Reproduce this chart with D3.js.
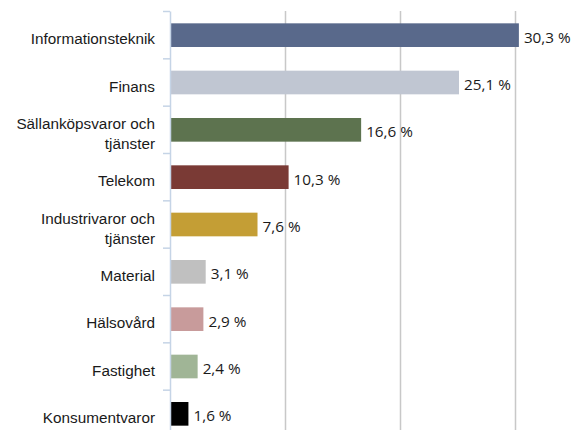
<!DOCTYPE html>
<html>
<head>
<meta charset="utf-8">
<script src="https://cdn.jsdelivr.net/npm/d3@7"></script>
<style>
  html, body { margin: 0; padding: 0; background: #fff; }
</style>
</head>
<body>
<svg id="chart"></svg>
<script>
// data
const categories = [
  ["Informationsteknik"],
  ["Finans"],
  ["Sällanköpsvaror och", "tjänster"],
  ["Telekom"],
  ["Industrivaror och", "tjänster"],
  ["Material"],
  ["Hälsovård"],
  ["Fastighet"],
  ["Konsumentvaror"]
];
const values = [30.3, 25.1, 16.6, 10.3, 7.6, 3.1, 2.9, 2.4, 1.6];
const colors = ["#59698b", "#c0c6d2", "#5d734f", "#7a3a35", "#c49e35", "#c0c0c0", "#c89b9b", "#a0b596", "#000000"];
const gridTicks = [10, 20, 30];

const width = 573;
const height = 430;

const svg = d3.select("#chart")
    .attr("width", width)
    .attr("height", height);

const data = categories.map((c, i) => ({ key: c.join(" "), lines: c, value: values[i], color: colors[i] }));

// scales
const x = d3.scaleLinear()
    .domain([0, 35])
    .range([170, 573]);

const y = d3.scaleBand()
    .domain(data.map(d => d.key))
    .range([11.5, 437.5])
    .paddingInner(0.5)
    .paddingOuter(0.25);

// gridlines
svg.append("g")
    .selectAll("line")
    .data(gridTicks)
    .enter()
    .append("line")
    .attr("x1", d => Math.round(x(d)) + 0.5)
    .attr("x2", d => Math.round(x(d)) + 0.5)
    .attr("y1", 11)
    .attr("y2", height)
    .attr("stroke", "#c8c8c8")
    .attr("stroke-width", 1.5);

// bars
svg.append("g")
    .selectAll("rect")
    .data(data)
    .enter()
    .append("rect")
    .attr("x", x(0))
    .attr("y", d => y(d.key))
    .attr("width", d => x(d.value) - x(0))
    .attr("height", y.bandwidth())
    .attr("fill", d => d.color);

// y axis line and ticks at band boundaries
const axisColor = "#c5d4e6";
const gap = y.step() * y.paddingInner() / 2;
const bounds = data.map(d => y(d.key) - gap);
bounds.push(y(data[data.length - 1].key) + y.bandwidth() + gap);

svg.append("line")
    .attr("x1", x(0) + 0.5)
    .attr("x2", x(0) + 0.5)
    .attr("y1", bounds[0])
    .attr("y2", height)
    .attr("stroke", axisColor)
    .attr("stroke-width", 1.5);

svg.append("g")
    .selectAll("line")
    .data(bounds)
    .enter()
    .append("line")
    .attr("x1", x(0) - 7)
    .attr("x2", x(0))
    .attr("y1", d => d)
    .attr("y2", d => d)
    .attr("stroke", axisColor)
    .attr("stroke-width", 1.5);

// category labels
const labels = svg.append("g")
    .selectAll("text")
    .data(data)
    .enter()
    .append("text")
    .attr("text-anchor", "end")
    .style("font-family", "'Liberation Sans', Arial, sans-serif")
    .style("font-size", "15.3px")
    .attr("fill", "#1a1a1a");

labels.each(function(d) {
  const cy = y(d.key) + y.bandwidth() / 2;
  const t = d3.select(this);
  if (d.lines.length == 1) {
    t.append("tspan").attr("x", 155).attr("y", cy + 9).text(d.lines[0]);
  } else {
    t.append("tspan").attr("x", 155).attr("y", cy - 0.5).text(d.lines[0]);
    t.append("tspan").attr("x", 155).attr("y", cy + 19.5).text(d.lines[1]);
  }
});

// value labels
svg.append("g")
    .selectAll("text")
    .data(data)
    .enter()
    .append("text")
    .attr("x", d => x(d.value) + 5)
    .attr("y", d => y(d.key) + y.bandwidth() / 2 + 7.5)
    .style("font-family", "'Open Sans', sans-serif")
    .style("font-size", "15.3px")
    .attr("fill", "#1a1a1a")
    .text(d => d.value.toFixed(1).replace(".", ",") + " %");
</script>
</body>
</html>
